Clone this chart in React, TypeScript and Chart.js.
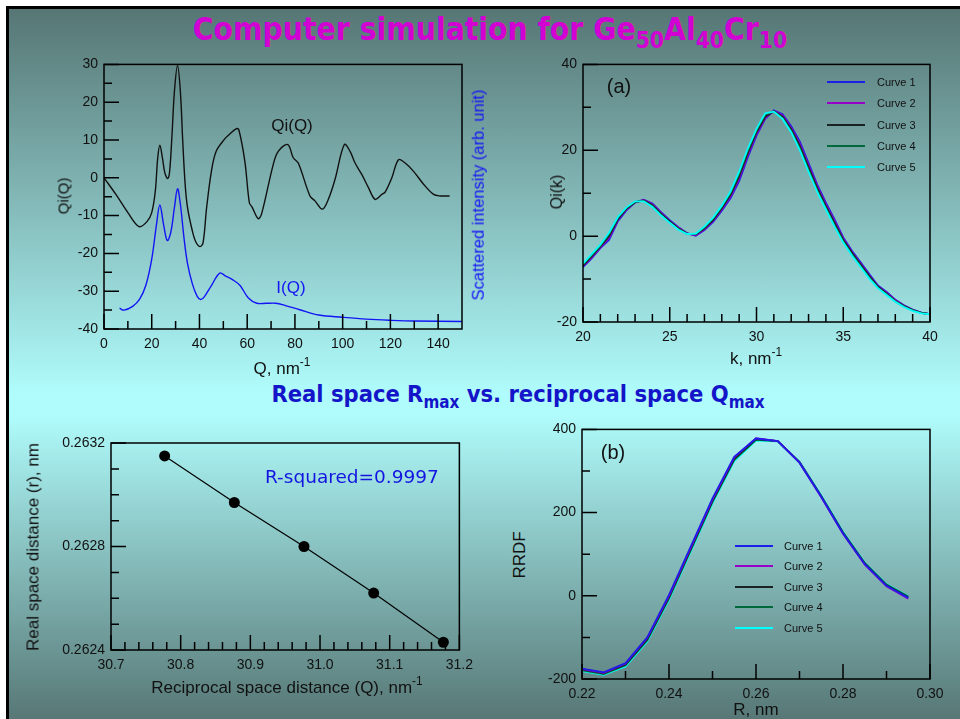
import React, { useEffect, useRef } from "react";
import { Chart, registerables } from "chart.js";
Chart.register(...registerables);

// ---------------- DATA ----------------
// Panel 1: Qi(Q) and I(Q)
const qiQ_Q = [0, 5, 10, 14.7, 18, 20, 21.5, 22.5, 23.4, 24.5, 25.5, 26.7, 27.5, 28.5, 29.5, 30.8, 32, 33, 34, 35, 37, 38.5, 40.2, 41.5, 43, 45, 47, 50.6, 52, 55.5, 56.5, 59, 60.9, 62, 64.6, 66, 70.9, 73, 77, 79.3, 81.4, 86.3, 88.4, 91.5, 94, 96.8, 100.7, 103.1, 105.2, 108, 110.8, 113.6, 116.4, 117.8, 120.6, 123.4, 126.2, 129.7, 133.9, 138.1, 140.9, 144.8];
const qiQ_V = [0, -4.4, -9.2, -12.9, -11.6, -9.2, -3.5, 5.2, 8.6, 5.2, 1.3, -0.2, 1.7, 11.4, 22.8, 29.7, 22.8, 9.6, -1.7, -7.9, -14, -17, -18.2, -17.2, -7.9, 1.7, 7.0, 10.3, 11.2, 13.0, 12.7, 4.4, -6.6, -7.7, -10.8, -9.6, 3.5, 7.0, 8.8, 5.3, 3.9, -4.8, -6.1, -8.3, -5.7, -0.4, 8.8, 7.0, 3.9, 0.9, -2.6, -5.7, -4.4, -3.8, 0, 4.8, 3.9, 1.7, -1.7, -4.4, -4.8, -4.8];
const iQ_Q = [6.5, 8.3, 12, 15, 17.5, 20, 22, 23.4, 25, 26.5, 28, 29.5, 30.8, 32, 33.5, 35, 37, 39, 40.5, 42, 45, 48.5, 51, 54, 57, 60.5, 64, 68, 72, 76, 82, 90, 100, 110, 120, 130, 150];
const iQ_V = [-34.5, -35.0, -34.0, -32.0, -28.5, -21.5, -12.3, -7.2, -12.5, -16.6, -14.4, -7.9, -2.9, -7.0, -15.8, -22.7, -28.0, -31.3, -32.2, -31.5, -28.5, -25.2, -26.0, -27.0, -28.5, -31.8, -33.2, -33.2, -33.2, -33.8, -34.9, -36.3, -36.9, -37.4, -37.7, -37.9, -38.0];

// Panel (a): Qi(k)
const kValues = [20, 20.5, 21, 21.5, 22, 22.5, 23, 23.5, 24, 24.5, 25, 25.5, 26, 26.5, 27, 27.5, 28, 28.5, 29, 29.5, 30, 30.5, 31, 31.5, 32, 32.5, 33, 33.5, 34, 34.5, 35, 35.5, 36, 36.5, 37, 37.5, 38, 38.5, 39, 39.5, 40];
const qik1 = [-7.2, -5.2, -2.8, -0.9, 3.4, 6.0, 7.8, 8.5, 7.6, 5.6, 3.7, 2.1, 0.7, 0.1, 1.4, 3.3, 5.9, 8.8, 12.8, 18.4, 23.4, 27.3, 29.3, 28.4, 25.6, 22.0, 17.0, 12.0, 7.8, 3.9, -0.3, -3.4, -6.1, -8.8, -11.5, -13.0, -14.8, -16.1, -17.1, -17.8, -18.2];
const qik2 = [-7.0, -5.0, -2.6, -0.5, 3.7, 6.2, 7.9, 8.4, 7.4, 5.4, 3.5, 2.0, 0.6, 0.2, 1.6, 3.6, 6.2, 9.2, 13.4, 18.9, 23.8, 27.5, 29.2, 28.1, 25.2, 21.5, 16.5, 11.6, 7.4, 3.5, -0.6, -3.7, -6.4, -9.1, -11.7, -13.2, -14.9, -16.2, -17.2, -17.8, -18.2];
const qik3 = [-6.8, -4.7, -2.4, 0.0, 3.9, 6.4, 7.9, 8.3, 7.2, 5.2, 3.4, 1.8, 0.6, 0.4, 1.8, 3.8, 6.5, 9.6, 13.9, 19.4, 24.2, 27.8, 29.1, 27.8, 24.9, 21.0, 16.0, 11.2, 7.0, 3.1, -0.9, -3.9, -6.6, -9.3, -11.8, -13.4, -15.1, -16.3, -17.2, -17.9, -18.2];
const qik4 = [-6.6, -4.5, -2.2, 0.4, 4.2, 6.5, 8.0, 8.2, 7.0, 5.0, 3.2, 1.7, 0.5, 0.5, 2.0, 4.1, 6.8, 10.0, 14.5, 19.9, 24.6, 28.3, 29.1, 27.6, 24.5, 20.5, 15.5, 10.7, 6.6, 2.6, -1.2, -4.2, -6.9, -9.6, -12.0, -13.5, -15.2, -16.4, -17.3, -17.9, -18.2];
const qik5 = [-6.4, -4.2, -2.0, 0.8, 4.4, 6.7, 8.1, 8.1, 6.8, 4.8, 3.1, 1.5, 0.5, 0.6, 2.2, 4.3, 7.1, 10.4, 15.0, 20.4, 25.0, 28.6, 29.0, 27.3, 24.2, 20.0, 15.0, 10.3, 6.2, 2.2, -1.5, -4.5, -7.2, -9.9, -12.1, -13.7, -15.3, -16.5, -17.4, -18.0, -18.2];

// Panel: R vs Q
const qMax = [30.777, 30.877, 30.977, 31.077, 31.177];
const rMax = [0.26315, 0.26297, 0.2628, 0.26262, 0.26243];

// Panel (b): RRDF
const rValues = [0.22, 0.225, 0.23, 0.235, 0.24, 0.245, 0.25, 0.255, 0.26, 0.265, 0.27, 0.275, 0.28, 0.285, 0.29, 0.295];
const rrdf1 = [-175, -184, -162, -100, 2, 118, 234, 334, 378, 372, 320, 238, 150, 76, 24, -5];
const rrdf2 = [-176, -185, -163, -101, 0, 116, 232, 333, 379, 372, 320, 237, 149, 75, 23, -7];
const rrdf3 = [-177, -186, -165, -104, -3, 113, 229, 330, 377, 372, 321, 239, 151, 77, 25, -4];
const rrdf4 = [-179, -188, -167, -107, -6, 110, 226, 327, 375, 372, 322, 240, 153, 79, 27, -2];
const rrdf5 = [-181, -190, -170, -110, -10, 106, 222, 324, 373, 371, 322, 241, 154, 80, 28, -1];

const curveNames = ["Curve 1", "Curve 2", "Curve 3", "Curve 4", "Curve 5"];
const curveColors = ["rgb(30,30,235)", "rgb(150,0,200)", "rgb(25,35,35)", "rgb(0,105,60)", "rgb(0,255,255)"];

// Tick lists
const p1XLabels = [0, 20, 40, 60, 80, 100, 120, 140];
const p1XMinor = [10, 30, 50, 70, 90, 110, 130];
const p1YLabels = [-40, -30, -20, -10, 0, 10, 20, 30];
const p1YMinor = [-35, -25, -15, -5, 5, 15, 25];

const paXLabels = [20, 25, 30, 35, 40];
const paXMinor = [21, 22, 23, 24, 26, 27, 28, 29, 31, 32, 33, 34, 36, 37, 38, 39];
const paYLabels = [-20, 0, 20, 40];
const paYMinor = [-10, 10, 30];

const p3XLabels = [30.7, 30.8, 30.9, 31.0, 31.1, 31.2];
const p3XMinor = [30.72, 30.74, 30.76, 30.78, 30.82, 30.84, 30.86, 30.88, 30.92, 30.94, 30.96, 30.98, 31.02, 31.04, 31.06, 31.08, 31.12, 31.14, 31.16, 31.18];
const p3YLabels = [0.2624, 0.2628, 0.2632];
const p3YMinor = [0.2625, 0.2626, 0.2627, 0.2629, 0.263, 0.2631];

const pbXLabels = [0.22, 0.24, 0.26, 0.28, 0.3];
const pbXMinor = [0.23, 0.25, 0.27, 0.29];
const pbYLabels = [-200, 0, 200, 400];
const pbYMinor = [-100, 100, 300];

// ---------------- CHART HELPERS ----------------
const FONT = '"Liberation Sans", Arial, sans-serif';

const framePlugin = {
  id: "frameTicks",
  afterDraw(chart: any, _args: any, opts: any) {
    const { ctx, chartArea: a } = chart;
    const xs = chart.scales.x;
    const ys = chart.scales.y;
    ctx.save();
    ctx.strokeStyle = "#000";
    ctx.lineWidth = 1.5;
    ctx.strokeRect(a.left, a.top, a.right - a.left, a.bottom - a.top);
    ctx.beginPath();
    const L = 15, S = 8;
    for (const v of opts.xMajor) { const p = xs.getPixelForValue(v); ctx.moveTo(p, a.bottom); ctx.lineTo(p, a.bottom - L); }
    for (const v of opts.xMinor) { const p = xs.getPixelForValue(v); ctx.moveTo(p, a.bottom); ctx.lineTo(p, a.bottom - S); }
    for (const v of opts.yMajor) { const p = ys.getPixelForValue(v); ctx.moveTo(a.left, p); ctx.lineTo(a.left + L, p); }
    for (const v of opts.yMinor) { const p = ys.getPixelForValue(v); ctx.moveTo(a.left, p); ctx.lineTo(a.left + S, p); }
    ctx.stroke();
    ctx.restore();
  },
};

type Box = { left: number; top: number; width: number; height: number };
type Plot = { left: number; top: number; right: number; bottom: number };
type AxisCfg = { min: number; max: number; labels: number[]; minor: number[]; fmt: (v: number) => string };
type Cfg = { box: Box; plot: Plot; x: AxisCfg; y: AxisCfg; datasets: any[]; fontSize?: number };

function ChartPanel({ cfg }: { cfg: Cfg }) {
  const ref = useRef<HTMLCanvasElement>(null);
  useEffect(() => {
    const { box, plot, x, y } = cfg;
    const tickFont = { family: FONT, size: cfg.fontSize || 13 };
    const chart = new Chart(ref.current as HTMLCanvasElement, {
      type: "line",
      data: { datasets: cfg.datasets },
      options: {
        animation: false,
        responsive: false,
        devicePixelRatio: 1,
        layout: { padding: { left: 0, bottom: 0, top: plot.top - box.top, right: box.left + box.width - plot.right } },
        plugins: {
          legend: { display: false },
          tooltip: { enabled: false },
          // @ts-ignore
          frameTicks: { xMajor: x.labels, xMinor: x.minor, yMajor: y.labels, yMinor: y.minor },
        },
        scales: {
          x: {
            type: "linear",
            min: x.min,
            max: x.max,
            grid: { display: false, drawTicks: false },
            border: { display: false },
            afterBuildTicks: (s: any) => { s.ticks = x.labels.map((v) => ({ value: v })); },
            afterFit: (s: any) => { s.height = box.top + box.height - plot.bottom; },
            ticks: { autoSkip: false, maxRotation: 0, padding: 7, color: "#111", font: tickFont, callback: (v: any) => x.fmt(Number(v)) },
          },
          y: {
            type: "linear",
            min: y.min,
            max: y.max,
            grid: { display: false, drawTicks: false },
            border: { display: false },
            afterBuildTicks: (s: any) => { s.ticks = y.labels.map((v) => ({ value: v })); },
            afterFit: (s: any) => { s.width = plot.left - box.left; },
            ticks: { autoSkip: false, padding: 6, color: "#111", font: tickFont, callback: (v: any) => y.fmt(Number(v)) },
          },
        },
      } as any,
      plugins: [framePlugin],
    });
    return () => chart.destroy();
  }, []);
  const { box } = cfg;
  return (
    <canvas
      ref={ref}
      width={box.width}
      height={box.height}
      style={{ position: "absolute", left: box.left, top: box.top, width: box.width, height: box.height }}
    />
  );
}

const pts = (xs: number[], ys: number[]) => xs.map((v, i) => ({ x: v, y: ys[i] }));

const lineDs = (data: any[], color: string, width: number, tension: number, order = 0) => ({
  data,
  borderColor: color,
  backgroundColor: color,
  borderWidth: width,
  pointRadius: 0,
  tension,
  fill: false,
  order,
});

const cfg1: Cfg = {
  box: { left: 40, top: 50, width: 460, height: 330 },
  plot: { left: 104, top: 62, right: 462, bottom: 329 },
  x: { min: 0, max: 150, labels: p1XLabels, minor: p1XMinor, fmt: (v) => String(Math.round(v)) },
  y: { min: -40, max: 30, labels: p1YLabels, minor: p1YMinor, fmt: (v) => String(Math.round(v)) },
  fontSize: 14,
  datasets: [
    lineDs(pts(qiQ_Q, qiQ_V), "#111", 1.4, 0.35),
    lineDs(pts(iQ_Q, iQ_V), "rgb(20,20,245)", 1.4, 0.35),
  ],
};

const qikSeries = [qik1, qik2, qik3, qik4, qik5];
const cfgA: Cfg = {
  box: { left: 540, top: 50, width: 415, height: 330 },
  plot: { left: 583, top: 62, right: 930, bottom: 322 },
  x: { min: 20, max: 40, labels: paXLabels, minor: paXMinor, fmt: (v) => String(Math.round(v)) },
  y: { min: -20, max: 40, labels: paYLabels, minor: paYMinor, fmt: (v) => String(Math.round(v)) },
  fontSize: 14,
  datasets: qikSeries.map((s, i) => lineDs(pts(kValues, s), curveColors[i], 1.8, 0, 4 - i)),
};

const cfg3: Cfg = {
  box: { left: 20, top: 425, width: 460, height: 280 },
  plot: { left: 111, top: 443, right: 465, bottom: 650 },
  x: { min: 30.7, max: 31.2, labels: p3XLabels, minor: p3XMinor, fmt: (v) => v.toFixed(1) },
  y: { min: 0.2624, max: 0.2632, labels: p3YLabels, minor: p3YMinor, fmt: (v) => v.toFixed(4) },
  fontSize: 14,
  datasets: [
    {
      data: pts(qMax, rMax),
      borderColor: "#000",
      backgroundColor: "#000",
      borderWidth: 1.2,
      pointRadius: 5.5,
      pointBorderWidth: 0,
      tension: 0,
      fill: false,
      clip: false,
    },
  ],
};

const rrdfSeries = [rrdf1, rrdf2, rrdf3, rrdf4, rrdf5];
const cfgB: Cfg = {
  box: { left: 530, top: 415, width: 425, height: 300 },
  plot: { left: 582, top: 429, right: 930, bottom: 679 },
  x: { min: 0.22, max: 0.3, labels: pbXLabels, minor: pbXMinor, fmt: (v) => v.toFixed(2) },
  y: { min: -200, max: 400, labels: pbYLabels, minor: pbYMinor, fmt: (v) => String(Math.round(v)) },
  fontSize: 14,
  datasets: rrdfSeries.map((s, i) => lineDs(pts(rValues, s), curveColors[i], 1.8, 0, i)),
};

// ---------------- TEXT HELPERS ----------------
function Txt(props: { x: number; y: number; size: number; color?: string; rotate?: boolean; align?: "center" | "left"; family?: string; weight?: string; children: any }) {
  const { x, y, size, color = "#111", rotate, align = "center", family = FONT, weight = "normal" } = props;
  const tf = align === "center" ? "translate(-50%,-50%)" : "translate(0,-50%)";
  return (
    <div
      style={{
        position: "absolute",
        left: x,
        top: y,
        transform: tf + (rotate ? " rotate(-90deg)" : ""),
        fontFamily: family,
        fontSize: size,
        fontWeight: weight as any,
        color,
        whiteSpace: "nowrap",
        lineHeight: 1,
      }}
    >
      {props.children}
    </div>
  );
}

function Legend({ x1, x2, tx, ys }: { x1: number; x2: number; tx: number; ys: number[] }) {
  return (
    <>
      {ys.map((y, i) => (
        <React.Fragment key={i}>
          <div style={{ position: "absolute", left: x1, top: y - 1, width: x2 - x1, height: 2, background: curveColors[i] }} />
          <Txt x={tx} y={y} size={11} align="left">{curveNames[i]}</Txt>
        </React.Fragment>
      ))}
    </>
  );
}

const supStyle: React.CSSProperties = { fontSize: "0.7em", verticalAlign: "0.6em" };
const subStyle: React.CSSProperties = { fontSize: "0.72em", verticalAlign: "-0.35em" };
const TITLE_FONT = '"DejaVu Sans Condensed", "DejaVu Sans", sans-serif';

export default function App() {
  return (
    <div style={{ position: "fixed", left: 0, top: 0, width: 960, height: 719, overflow: "hidden", background: "#fff" }}>
      <div
        style={{
          position: "absolute",
          left: 6,
          top: 6,
          width: 960,
          height: 720,
          borderLeft: "3px solid #000",
          borderTop: "3px solid #000",
          background:
            "linear-gradient(to bottom, rgb(86,118,116) 0px, rgb(176,252,252) 385px, rgb(176,252,252) 405px, rgb(86,118,116) 713px)",
        }}
      />
      {/* Main title */}
      <Txt x={490} y={33} size={31.5} color="rgb(210,0,210)" weight="bold" family={TITLE_FONT}>
        Computer simulation for Ge<span style={subStyle}>50</span>Al<span style={subStyle}>40</span>Cr<span style={subStyle}>10</span>
      </Txt>
      {/* Middle title */}
      <Txt x={518} y={397} size={23.5} color="rgb(20,20,200)" weight="bold" family={TITLE_FONT}>
        Real space R<span style={subStyle}>max</span> vs. reciprocal space Q<span style={subStyle}>max</span>
      </Txt>

      <ChartPanel cfg={cfg1} />
      <ChartPanel cfg={cfgA} />
      <ChartPanel cfg={cfg3} />
      <ChartPanel cfg={cfgB} />

      {/* Panel 1 texts */}
      <Txt x={292} y={125} size={17}>Qi(Q)</Txt>
      <Txt x={291} y={287} size={17} color="rgb(20,20,245)">I(Q)</Txt>
      <Txt x={63} y={196} size={15} rotate>Qi(Q)</Txt>
      <Txt x={282} y={367} size={17}>Q, nm<span style={supStyle}>-1</span></Txt>
      <Txt x={478} y={195} size={16.5} color="rgb(20,20,245)" rotate>Scattered intensity (arb. unit)</Txt>

      {/* Panel (a) texts */}
      <Txt x={619} y={86} size={20}>(a)</Txt>
      <Txt x={557} y={192} size={16} rotate>Qi(k)</Txt>
      <Txt x={756} y={357} size={17}>k, nm<span style={supStyle}>-1</span></Txt>
      <Legend x1={827} x2={865} tx={877} ys={[82, 103, 125, 146, 167]} />

      {/* Panel R vs Q texts */}
      <Txt x={265} y={477} size={18.5} color="rgb(20,20,225)" align="left" family='"DejaVu Sans", sans-serif'>R-squared=0.9997</Txt>
      <Txt x={287} y={686} size={17}>Reciprocal space distance (Q), nm<span style={supStyle}>-1</span></Txt>
      <Txt x={33} y={547} size={17} rotate>Real space distance (r), nm</Txt>

      {/* Panel (b) texts */}
      <Txt x={613} y={452} size={20}>(b)</Txt>
      <Txt x={519} y={555} size={17} rotate>RRDF</Txt>
      <Txt x={756} y={709} size={17}>R, nm</Txt>
      <Legend x1={735} x2={773} tx={784} ys={[546, 566, 587, 607, 628]} />
    </div>
  );
}
